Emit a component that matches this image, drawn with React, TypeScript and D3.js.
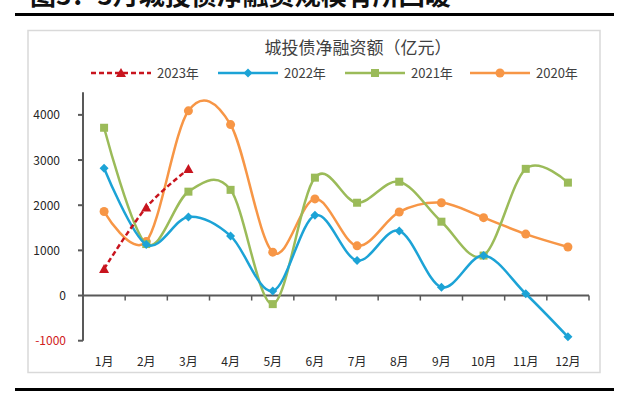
import React from "react";
import * as d3 from "d3";

const months = ["1月", "2月", "3月", "4月", "5月", "6月", "7月", "8月", "9月", "10月", "11月", "12月"];
const y2023 = [590, 1950, 2800];
const y2022 = [2820, 1130, 1740, 1320, 100, 1775, 775, 1430, 185, 885, 40, -915];
const y2021 = [3715, 1140, 2300, 2340, -190, 2610, 2055, 2520, 1635, 885, 2805, 2500];
const y2020 = [1860, 1195, 4090, 3785, 960, 2140, 1100, 1850, 2055, 1725, 1360, 1075];
const yTicks = [-1000, 0, 1000, 2000, 3000, 4000];

const W = 633;
const H = 395;
const font = "'Noto Sans CJK SC', 'Noto Sans', sans-serif";

const series = [
  { name: "2023年", data: y2023, color: "#C8141E", marker: "triangle", dash: "5,3" },
  { name: "2022年", data: y2022, color: "#1CA3D6", marker: "diamond", dash: null },
  { name: "2021年", data: y2021, color: "#9BBB59", marker: "square", dash: null },
  { name: "2020年", data: y2020, color: "#F79646", marker: "circle", dash: null },
];

const Marker = ({ type, x, y, color }) => {
  if (type === "triangle") {
    return <path d={`M${x},${y - 5}L${x + 5},${y + 4}L${x - 5},${y + 4}Z`} fill={color} />;
  }
  if (type === "diamond") {
    return <path d={`M${x},${y - 4.5}L${x + 4.5},${y}L${x},${y + 4.5}L${x - 4.5},${y}Z`} fill={color} />;
  }
  if (type === "square") {
    return <rect x={x - 4} y={y - 4} width={8} height={8} fill={color} />;
  }
  return <circle cx={x} cy={y} r={4.5} fill={color} />;
};

const App = () => {
  const left = 83;
  const right = 589;
  const x = d3.scaleBand().domain(months).range([left, right]);
  const y = d3.scaleLinear().domain([-1000, 4500]).range([340.7, 92.3]);
  const cx = (i) => x(months[i]) + x.bandwidth() / 2;

  const line = d3
    .line()
    .x((d, i) => cx(i))
    .y((d) => y(d))
    .curve(d3.curveCardinal.tension(0));

  const axisColor = "#595959";
  const legendX = [91, 218, 345, 470];

  return (
    <div style={{ position: "absolute", left: 0, top: 0 }}>
      <svg width={W} height={H} style={{ display: "block", background: "#fff" }}>
        {/* header, clipped at the top */}
        <text x={30} y={5} fontSize={26} fontWeight="bold" fontFamily={font} fill="#111">
          图3：3月城投债净融资规模有所回暖
        </text>
        <rect x={15} y={13} width={599} height={3} fill="#000" />

        <rect x={28} y={30.5} width={572} height={342} fill="#fff" stroke="#D9D9D9" strokeWidth={1.5} />

        <text x={358} y={54} textAnchor="middle" fontSize={17} fontFamily={font} fill="#404040">
          城投债净融资额（亿元）
        </text>

        {series.map((s, k) => {
          const lx = legendX[k];
          return (
            <g key={s.name}>
              <line
                x1={lx}
                x2={lx + 60}
                y1={73}
                y2={73}
                stroke={s.color}
                strokeWidth={2.5}
                strokeDasharray={s.dash || undefined}
              />
              <Marker type={s.marker} x={lx + 30} y={73} color={s.color} />
              <text x={lx + 66} y={77.5} fontSize={13} fontFamily={font} fill="#404040">
                {s.name}
              </text>
            </g>
          );
        })}

        {/* y axis */}
        <line x1={left} x2={left} y1={y(4500)} y2={y(-1000)} stroke={axisColor} strokeWidth={2} />
        {yTicks.map((t) => (
          <g key={t}>
            <line x1={left - 5} x2={left} y1={y(t)} y2={y(t)} stroke={axisColor} strokeWidth={2} />
            <text
              x={t > 0 ? 60 : 66}
              y={y(t) + 4.5}
              textAnchor="end"
              fontSize={12}
              fontFamily={font}
              fill={t < 0 ? "#D02020" : "#262626"}
            >
              {t}
            </text>
          </g>
        ))}

        {/* x axis at zero */}
        <line x1={left} x2={right} y1={y(0)} y2={y(0)} stroke={axisColor} strokeWidth={2} />
        {months.map((m) => (
          <line key={m} x1={x(m) + x.bandwidth()} x2={x(m) + x.bandwidth()} y1={y(0)} y2={y(0) + 5} stroke={axisColor} strokeWidth={1.5} />
        ))}
        {months.map((m, i) => (
          <text key={m} x={cx(i)} y={366} textAnchor="middle" fontSize={12} fontFamily={font} fill="#262626">
            {m}
          </text>
        ))}

        {/* series, oldest drawn first */}
        {[...series].reverse().map((s) => (
          <g key={s.name}>
            <path
              d={line(s.data)}
              fill="none"
              stroke={s.color}
              strokeWidth={2.5}
              strokeDasharray={s.dash || undefined}
            />
            {s.data.map((v, i) => (
              <Marker key={i} type={s.marker} x={cx(i)} y={y(v)} color={s.color} />
            ))}
          </g>
        ))}

        <rect x={15} y={388} width={599} height={3} fill="#000" />
      </svg>
    </div>
  );
};

export default App;
